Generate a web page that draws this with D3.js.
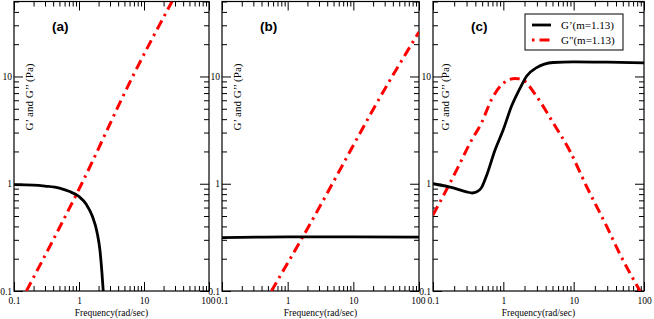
<!DOCTYPE html>
<html>
<head>
<meta charset="utf-8">
<script src="https://cdn.jsdelivr.net/npm/d3@7"></script>
<style>
  body { margin: 0; background: #fff; }
  svg { display: block; }
  .tick text { font-family: "Liberation Serif", "Times New Roman", serif; font-size: 9.5px; fill: #000; }
  .tick line { stroke: #000; stroke-width: 1; }
</style>
</head>
<body>
<div id="svg-container"></div>
<script>
// ---- data (frequency in rad/sec, modulus in Pa) ----
const freqMajor = [0.1, 1, 10, 100];
const modMajor = [0.1, 1, 10];

// panel (a)
const gpA = [[0.1, 0.98], [0.2, 0.97], [0.3, 0.95], [0.5, 0.91], [0.7, 0.85], [1, 0.76],
  [1.3, 0.64], [1.6, 0.5], [1.9, 0.35], [2.1, 0.24], [2.25, 0.15], [2.36, 0.1]];
const gppA = [[0.155, 0.1], [1.1, 1], [6.7, 10], [27, 50]];

// panel (b)
const gpB = [[0.1, 0.315], [1, 0.32], [10, 0.32], [100, 0.318]];
const gppB = [[0.565, 0.1], [1.7, 0.32], [39, 10], [100, 26]];

// panel (c)
const gpC = [[0.1, 1.0], [0.2, 0.91], [0.3, 0.84], [0.36, 0.82], [0.42, 0.84], [0.49, 0.92],
  [0.58, 1.2], [0.76, 2.05], [1, 3.2], [1.31, 5.3], [1.73, 7.8], [2.15, 10.1],
  [2.98, 12.1], [5.1, 13.5], [10, 13.7], [30, 13.6], [100, 13.4]];
const gppC = [[0.1, 0.51], [0.23, 1.45], [0.336, 2.4], [0.49, 3.7], [0.68, 6.1], [0.95, 8.4],
  [1.46, 9.6], [1.82, 9.4], [2.98, 6.5], [5.1, 3.7], [8.9, 2.0], [15.3, 0.94],
  [29.5, 0.4], [45.6, 0.22], [87.7, 0.1]];

const legendLabels = ["G\u2019(m=1.13)", "G\"(m=1.13)"];

////////////////////////////////////////////////////////////////////
const width = 654, height = 319;
const svg = d3.select("#svg-container").append("svg")
  .attr("width", width).attr("height", height);

const yTop = 1.5, yBottom = 291;
const panels = [
  { key: "a", label: "(a)", x0: 14, x1: 209, gp: gpA, gpp: gppA },
  { key: "b", label: "(b)", x0: 222, x1: 419, gp: gpB, gpp: gppB },
  { key: "c", label: "(c)", x0: 433, x1: 644, gp: gpC, gpp: gppC },
];

// minor tick values
const freqMinor = [];
[0.1, 1, 10].forEach((d) => { for (let i = 2; i <= 9; i++) freqMinor.push(+(d * i).toPrecision(3)); });
const modMinor = [];
[0.1, 1, 10].forEach((d) => { for (let i = 2; i <= 9; i++) if (d * i <= 50) modMinor.push(+(d * i).toPrecision(3)); });

const fmt = (d) => String(d);
const serif = '"Liberation Serif", "Times New Roman", serif';

panels.forEach((p, pi) => {
  const x = d3.scaleLog().domain([0.1, 100]).range([p.x0, p.x1]);
  const y = d3.scaleLog().domain([0.1, 50]).range([yBottom, yTop]);
  const g = svg.append("g").attr("class", "panel-" + p.key);

  g.append("clipPath").attr("id", "clip-" + p.key)
    .append("rect").attr("x", p.x0).attr("y", yTop)
    .attr("width", p.x1 - p.x0).attr("height", yBottom - yTop);

  // axes, ticks pointing inward on all four sides
  const axes = [
    [d3.axisBottom, x, `translate(0,${yBottom})`, freqMajor, freqMinor, true],
    [d3.axisTop, x, `translate(0,${yTop})`, freqMajor, freqMinor, false],
    [d3.axisLeft, y, `translate(${p.x0},0)`, modMajor, modMinor, true],
    [d3.axisRight, y, `translate(${p.x1},0)`, modMajor, modMinor, false],
  ];
  axes.forEach(([axisFn, sc, tr, major, minor, labels]) => {
    g.append("g").attr("transform", tr)
      .call(axisFn(sc).tickValues(minor).tickSizeInner(-5).tickSizeOuter(0).tickFormat(""))
      .call((s) => s.select(".domain").remove());
    g.append("g").attr("class", labels && axisFn === d3.axisBottom ? "xlab" : null)
      .attr("transform", tr)
      .call(axisFn(sc).tickValues(major).tickSizeInner(-9).tickSizeOuter(0)
        .tickPadding(2).tickFormat(labels ? fmt : ""))
      .call((s) => s.select(".domain").remove());
  });
  // bottom labels sit a little lower; end labels squeezed where panels meet
  g.selectAll(".xlab text").attr("y", 6)
    .each(function (d) {
      const t = d3.select(this);
      if (d === 0.1 && pi > 0) t.attr("text-anchor", "start").attr("x", -6);
      if (d === 100 && pi < panels.length - 1) t.attr("text-anchor", "end").attr("x", 6);
    });

  // frame
  g.append("rect").attr("x", p.x0).attr("y", yTop)
    .attr("width", p.x1 - p.x0).attr("height", yBottom - yTop)
    .attr("fill", "none").attr("stroke", "#000").attr("stroke-width", 1.2);

  const line = d3.line().x((d) => x(d[0])).y((d) => y(d[1])).curve(d3.curveMonotoneX);

  g.append("path").datum(p.gpp)
    .attr("clip-path", `url(#clip-${p.key})`)
    .attr("fill", "none").attr("stroke", "#ff0000").attr("stroke-width", 3)
    .attr("stroke-dasharray", "10,5,2.5,5")
    .attr("d", line);

  g.append("path").datum(p.gp)
    .attr("clip-path", `url(#clip-${p.key})`)
    .attr("fill", "none").attr("stroke", "#000").attr("stroke-width", 2.8)
    .attr("d", line);

  // panel letter
  g.append("text").attr("x", p.x0 + 38).attr("y", 31)
    .style("font-family", '"Liberation Sans", Arial, sans-serif')
    .style("font-weight", "bold").style("font-size", "13.5px")
    .text(p.label);

  // y title (inside the frame)
  g.append("text")
    .attr("transform", `translate(${p.x0 + (p.key === "c" ? 16 : 19)},97) rotate(-90)`)
    .attr("text-anchor", "middle")
    .style("font-family", serif).style("font-size", "11px")
    .text("G\u2019 and G\u2019\u2019 (Pa)");

  // x title
  g.append("text").attr("x", (p.x0 + p.x1) / 2).attr("y", 316)
    .attr("text-anchor", "middle")
    .style("font-family", serif).style("font-size", "9.5px")
    .text("Frequency(rad/sec)");

  // legend in (c)
  if (p.key === "c") {
    const lg = g.append("g");
    lg.append("rect").attr("x", 525).attr("y", 14).attr("width", 98).attr("height", 36)
      .attr("fill", "#fff").attr("stroke", "#000").attr("stroke-width", 1);
    const styles = [
      { stroke: "#000", w: 2.8, dash: null },
      { stroke: "#ff0000", w: 3, dash: "2.5,5,10,5" },
    ];
    legendLabels.forEach((t, i) => {
      const ly = 25 + i * 15;
      lg.append("line").attr("x1", 532).attr("x2", 551).attr("y1", ly).attr("y2", ly)
        .attr("stroke", styles[i].stroke).attr("stroke-width", styles[i].w)
        .attr("stroke-dasharray", styles[i].dash);
      lg.append("text").attr("x", 561).attr("y", ly + 4)
        .style("font-family", serif).style("font-size", "11px").text(t);
    });
  }
});
</script>
</body>
</html>
